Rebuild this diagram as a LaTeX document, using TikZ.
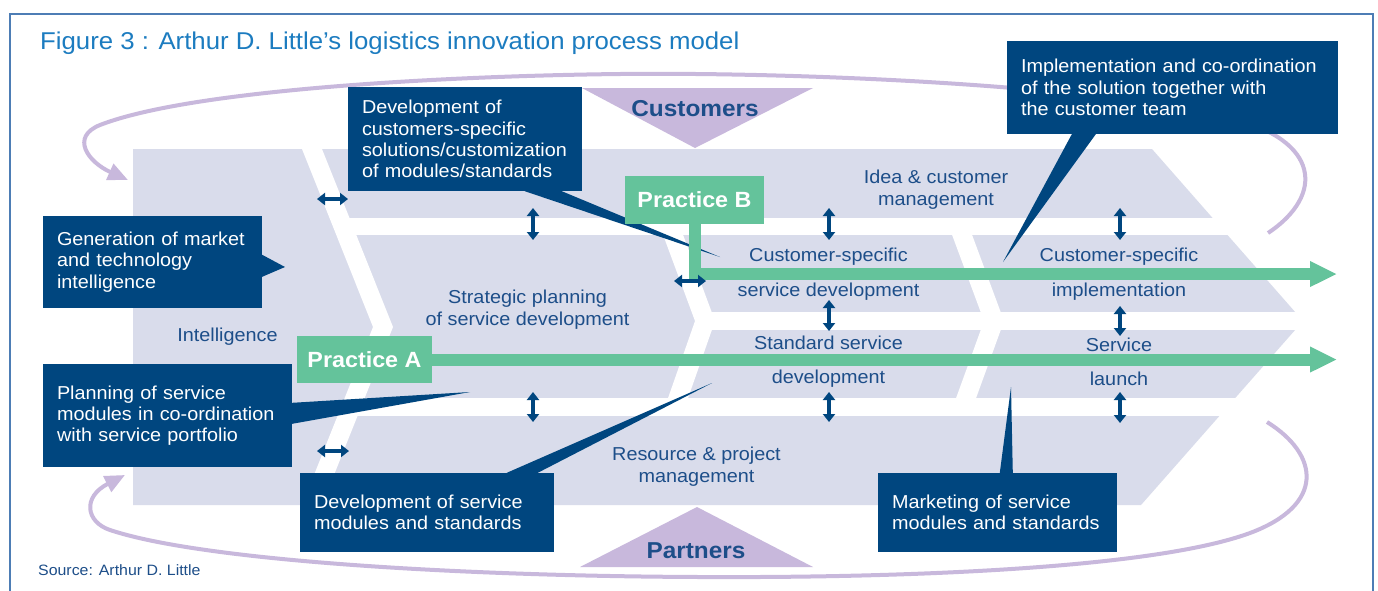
\documentclass[tikz,border=0pt]{standalone}
\usepackage{fontspec}
\setmainfont{Liberation Sans}[FakeStretch=1.06]
\usetikzlibrary{arrows.meta,calc}

\definecolor{lav}{HTML}{D9DCEB}
\definecolor{boxblue}{HTML}{00467F}
\definecolor{bandblue}{HTML}{1D4E89}
\definecolor{practice}{HTML}{64C39B}
\definecolor{loopc}{HTML}{C8B8DC}
\definecolor{titleblue}{HTML}{1C7CC0}
\definecolor{framec}{HTML}{4D7DB5}

\newcommand\bodyfont{\fontsize{18.7}{21.3}\selectfont}
\newcommand\practicefont{\fontsize{22}{24}\selectfont\bfseries}
\newcommand\bigboldfont{\fontsize{23}{25}\selectfont\bfseries}

\begin{document}
\begin{tikzpicture}[x=1pt,y=-1pt,
  callout/.style={fill=boxblue, text=white, inner xsep=14pt, inner ysep=0pt, align=left, font=\bodyfont},
  bandtext/.style={text=bandblue, font=\bodyfont, anchor=base, inner sep=0pt},
  dbl/.style={boxblue, line width=3.5pt, {Triangle[length=8pt,width=12pt]}-{Triangle[length=8pt,width=12pt]}},
  loopline/.style={loopc, line width=4pt, -{Triangle[length=20pt,width=17pt]}},
  greenbar/.style={practice, line width=12pt, -{Triangle[length=27pt,width=24pt]}},
  practicebox/.style={fill=practice, text=white, font=\practicefont, inner sep=0pt},
  wedge/.style={fill=boxblue}
]
\useasboundingbox (0,0) rectangle (1378,590);
\fill[white] (0,0) rectangle (1378,590);

% process area: one big arrow, cut into fields by white gaps
\fill[lav] (133,149) -- (1152,149) -- (1303,321) -- (1141,505) -- (133,505) -- cycle;
\fill[white] (300.8,146) -- (373,327) -- (300.8,508) -- (320.8,508) -- (393,327) -- (320.8,146) -- cycle;
\fill[white] (337,218) rectangle (1320,235);
\fill[white] (346,398) rectangle (1320,416);
\fill[white] (662,232) -- (695,321) -- (667,401) -- (687,401) -- (715,321) -- (682,232) -- cycle;
\fill[white] (705,312) rectangle (1320,330);
\fill[white] (951,232) -- (984,321) -- (955,401) -- (975,401) -- (1004,321) -- (971,232) -- cycle;

% frame and title
\draw[framec, line width=1.3pt] (10,600) -- (10,14) -- (1373,14) -- (1373,600);
\node[anchor=base west, inner sep=0pt, text=titleblue, font=\fontsize{24.3}{28}\selectfont] (title) at (40,49.5)
  {Figure 3 : Arthur D. Little’s logistics innovation process model};

% field labels
\node[bandtext] (idea1) at (936,183) {Idea \& customer};
\node[bandtext] (idea2) at (936,205) {management};
\node[bandtext] (strat1) at (527.5,303) {Strategic planning};
\node[bandtext] (strat2) at (527.5,325) {of service development};
\node[bandtext] (intel) at (227.5,341) {Intelligence};
\node[bandtext] (csd1) at (828.5,261) {Customer-specific};
\node[bandtext] (csd2) at (828.5,296) {service development};
\node[bandtext] (ssd1) at (828.5,349) {Standard service};
\node[bandtext] (ssd2) at (828.5,383) {development};
\node[bandtext] (csi1) at (1119,261) {Customer-specific};
\node[bandtext] (csi2) at (1119,296) {implementation};
\node[bandtext] (sl1) at (1119,351) {Service};
\node[bandtext] (sl2) at (1119,385) {launch};
\node[bandtext] (res1) at (696.5,460) {Resource \& project};
\node[bandtext] (res2) at (696.5,482) {management};

% customers and partners
\fill[loopc] (582,88) -- (813,88) -- (695,148) -- cycle;
\fill[loopc] (580,567) -- (813,567) -- (697,507) -- cycle;
\node[anchor=base, inner sep=0pt, text=bandblue, font=\bigboldfont] (cust) at (695,116) {Customers};
\node[anchor=base, inner sep=0pt, text=bandblue, font=\bigboldfont] (part) at (696,558) {Partners};

% feedback loops
\coordinate (ltopS) at (1268,233);
\coordinate (ltopE) at (128,180);
\draw[loopline] (ltopS) .. controls (1325,195) and (1320,140) .. (1230,118)
  .. controls (1095,85) and (800,72) .. (620,74)
  .. controls (440,76) and (190,90) .. (100,125)
  .. controls (70,137) and (88,162) .. (ltopE);
\coordinate (lbotS) at (1267,422);
\coordinate (lbotE) at (125,475);
\draw[loopline] (lbotS) .. controls (1320,455) and (1325,505) .. (1250,533)
  .. controls (1152,569) and (900,578) .. (700,577)
  .. controls (450,576) and (200,560) .. (110,530)
  .. controls (86,522) and (82,497) .. (lbotE);

% callouts
\node[callout, text width=206pt, minimum width=234pt, minimum height=104pt] (devcs) at (465,139)
  {\mbox{Development of}\\\mbox{customers-specific}\\\mbox{solutions/customization}\\\mbox{of modules/standards}};
\node[callout, text width=191pt, minimum width=219pt, minimum height=92pt] (gen) at (152.5,262)
  {\mbox{Generation of market}\\\mbox{and technology}\\\mbox{intelligence}};
\node[callout, text width=221pt, minimum width=249pt, minimum height=103pt] (plan) at (167.5,415.5)
  {\mbox{Planning of service}\\\mbox{modules in co-ordination}\\\mbox{with service portfolio}};
\node[callout, text width=226pt, minimum width=254pt, minimum height=79pt] (devsm) at (427,512.5)
  {\mbox{Development of service}\\\mbox{modules and standards}};
\node[callout, text width=211pt, minimum width=239pt, minimum height=79pt] (mkt) at (997.5,512.5)
  {\mbox{Marketing of service}\\\mbox{modules and standards}};
\node[callout, text width=303pt, minimum width=331pt, minimum height=93pt] (impl) at (1172.5,87.5)
  {\mbox{Implementation and co-ordination}\\\mbox{of the solution together with}\\\mbox{the customer team}};

\coordinate (devcstip) at (720,257);
\coordinate (gentip) at (285,267);
\coordinate (plantip) at (470,392);
\coordinate (devsmtip) at (712,383);
\coordinate (mkttip) at (1011,387);
\coordinate (impltip) at (1003,262);
\fill[wedge] ($(devcs.south west)+(177,0)$) -- (devcstip) -- ($(devcs.south west)+(214,0)$) -- cycle;
\fill[wedge] ($(gen.north east)+(0,39)$) -- (gentip) -- ($(gen.north east)+(0,61)$) -- cycle;
\fill[wedge] ($(plan.north east)+(0,39)$) -- (plantip) -- ($(plan.north east)+(0,60)$) -- cycle;
\fill[wedge] ($(devsm.north west)+(207,0)$) -- (devsmtip) -- ($(devsm.north west)+(238,0)$) -- cycle;
\fill[wedge] ($(mkt.north west)+(122,0)$) -- (mkttip) -- ($(mkt.north west)+(135,0)$) -- cycle;
\fill[wedge] ($(impl.south west)+(65,0)$) -- (impltip) -- ($(impl.south west)+(89,0)$) -- cycle;

% practices
\node[practicebox, minimum width=139pt, minimum height=48pt] (pb) at (694.5,200) {Practice B};
\node[practicebox, minimum width=135pt, minimum height=47pt] (pa) at (364.5,359.5) {Practice A};
\coordinate (endB) at (1337,274);
\coordinate (endA) at (1337,359.5);
\draw[greenbar] (pb.south) |- (endB);
\draw[greenbar] (pa.east) -- (endA);

% interactions between fields
\foreach \n/\xa/\ya/\xb/\yb in {v1/533/208/533/240, v2/533/392/533/422, v3/829/208/829/240,
    v4/829/300/829/331, v5/829/392/829/422, v6/1120/208/1120/240, v7/1120/306/1120/336,
    v8/1120/392/1120/423, h1/317/199/348/199, h2/317/451/349/451, h3/674/281/706/281}{
  \coordinate (\n a) at (\xa,\ya);
  \coordinate (\n b) at (\xb,\yb);
  \draw[dbl] (\n a) -- (\n b);
}

\node[anchor=base west, inner sep=0pt, text=bandblue, font=\fontsize{15}{17}\selectfont] (src) at (38,575)
  {Source: Arthur D. Little};
\end{tikzpicture}
\end{document}
